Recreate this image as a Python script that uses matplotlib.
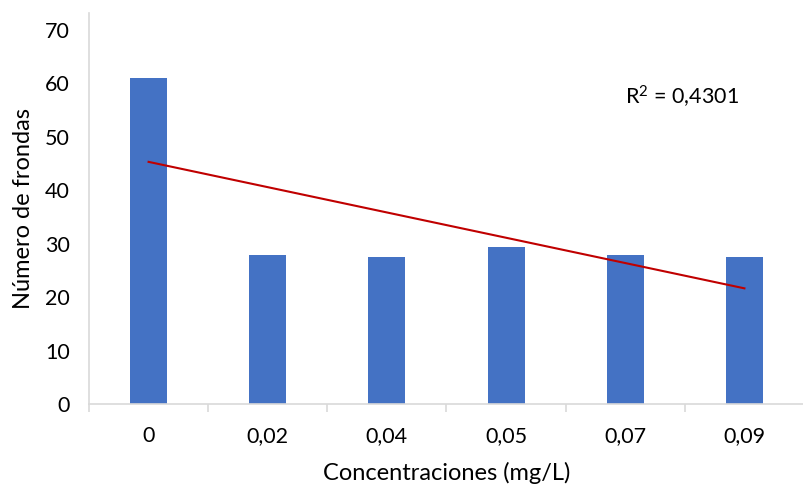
import numpy as np
from matplotlib import pyplot as plt

categories = ['0', '0,02', '0,04', '0,05', '0,07', '0,09']
frondas = [61.0, 27.8, 27.5, 29.3, 27.8, 27.5]
r2_label = r'R$^2$ = 0,4301'

plt.rcParams['font.family'] = ['Lato', 'DejaVu Sans']
plt.rcParams['mathtext.fontset'] = 'custom'
plt.rcParams['mathtext.rm'] = 'Lato'
plt.rcParams['mathtext.it'] = 'Lato'
plt.rcParams['mathtext.default'] = 'regular'

def main():
    fig = plt.figure(figsize=(8.04, 4.90), dpi=100)
    # axes box in pixels: left 89, right at figure edge (axis is cut off), bottom 404, top 13
    W, H = 804, 490
    ax = fig.add_axes([89 / W, (H - 404) / H, (804 - 89) / W, (404 - 13) / H])

    x = np.arange(len(categories))
    ax.bar(x, frondas, width=0.31, color='#4472C4', zorder=2)

    # linear trendline (Excel style, on category index)
    k, b = np.polyfit(x + 1, frondas, 1)
    ax.plot(x, k * (x + 1) + b, color='#C00000', lw=1.5, zorder=3)

    ax.set_xlim(-0.5, 5.5 - 9 / 120.7)
    ax.set_ylim(0, 70 * (404 - 13) / (404 - 30))
    ax.set_yticks(range(0, 71, 10))
    ax.set_xticks(x)
    ax.set_xticklabels(categories)
    ax.set_xticks(np.arange(-0.5, len(categories), 1), minor=True)
    ax.tick_params(axis='x', which='major', length=0, pad=16, labelsize=15.5)
    ax.tick_params(axis='x', which='minor', length=6, direction='out', color='#D9D9D9', width=1.2)
    ax.tick_params(axis='y', length=0, pad=14, labelsize=15.5)

    for s in ['top', 'right']:
        ax.spines[s].set_visible(False)
    for s in ['left', 'bottom']:
        ax.spines[s].set_color('#D9D9D9')
        ax.spines[s].set_linewidth(1.2)

    ax.set_xlabel('Concentraciones (mg/L)', fontsize=17, labelpad=11)
    ax.set_ylabel('Número de frondas', fontsize=17, labelpad=8)

    ax.text(4.0, 57.5, r2_label, fontsize=15.5, ha='left', va='center')

    fig.savefig('out.png', dpi=100)

if __name__ == '__main__':
    main()
